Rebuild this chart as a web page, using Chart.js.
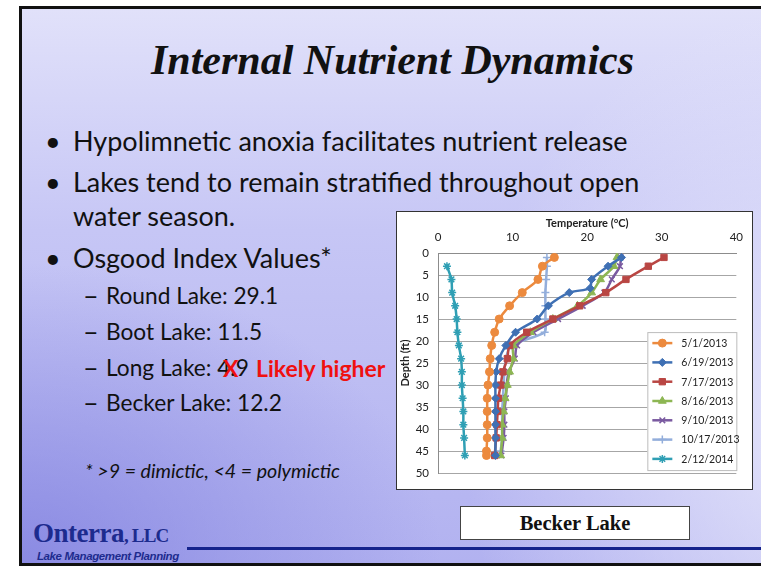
<!DOCTYPE html>
<html lang="en">
<head>
<meta charset="UTF-8">
<title>Internal Nutrient Dynamics</title>
<script src="https://cdn.jsdelivr.net/npm/chart.js"></script>
<style>
  html, body { margin: 0; padding: 0; }
  body { width: 761px; height: 566px; position: relative; overflow: hidden; background: #fff; }
  .slide {
    position: absolute; left: 19px; top: 6px; width: 800px; height: 554px;
    border: 3px solid #111; border-right: none;
    background:
      radial-gradient(ellipse 420px 300px at 0% 100%, rgba(125,125,222,0.75), rgba(125,125,222,0) 100%),
      radial-gradient(ellipse 360px 420px at 100% 75%, rgba(236,236,252,0.85), rgba(236,236,252,0) 100%),
      linear-gradient(to bottom, #e1e1fa 0%, #c6c6f5 40%, #b2b2f0 100%);
  }
  .t { position: absolute; white-space: nowrap; color: #111; font-family: Lato, sans-serif; line-height: 1; }
  .title { font-family: "Liberation Serif", serif; font-weight: bold; font-style: italic; font-size: 42px; left: 12px; width: 761px; text-align: center; }
  .b1 { font-size: 27px; }
  .b2 { font-size: 22.7px; }
  .dash { font-size: 27px; }
  .dot { font-size: 27px; }
  .red { color: #f01010; font-weight: bold; }
  .chartbox { position: absolute; left: 396px; top: 211px; width: 355px; height: 277px; background: #fff; border: 1.5px solid #333; }
  .caption { position: absolute; left: 460px; top: 506px; width: 228px; height: 32px; background: #fff; border: 1px solid #444;
    font-family: "Liberation Serif", serif; font-weight: bold; font-size: 20.5px; text-align: center; line-height: 33px; color: #111; }
  .rule { position: absolute; left: 187px; top: 547px; width: 580px; height: 3px; background: #15238c; }
  .logo { position: absolute; font-family: "Liberation Serif", serif; font-weight: bold; color: #1d2b8e; line-height: 1; white-space: nowrap; }
  .tag { position: absolute; font-family: "Liberation Sans", sans-serif; font-weight: bold; font-style: italic; font-size: 11.5px; color: #1d2b8e; line-height: 1; white-space: nowrap; letter-spacing: -0.4px; }
</style>
</head>
<body>
<div class="slide"></div>

<div class="t title" style="top:39px;">Internal Nutrient Dynamics</div>

<div class="t dot" style="left:45px; top:127px;">•</div>
<div class="t b1" style="left:73px; top:127px;">Hypolimnetic anoxia facilitates nutrient release</div>
<div class="t dot" style="left:45px; top:168px;">•</div>
<div class="t b1" style="left:73px; top:168px;">Lakes tend to remain stratified throughout open</div>
<div class="t b1" style="left:73px; top:202px;">water season.</div>
<div class="t dot" style="left:45px; top:244px;">•</div>
<div class="t b1" style="left:73px; top:244px;">Osgood Index Values*</div>

<div class="t dash" style="left:83px; top:281px;">–</div>
<div class="t b2" style="left:106px; top:285px;">Round Lake: 29.1</div>
<div class="t dash" style="left:83px; top:317px;">–</div>
<div class="t b2" style="left:106px; top:321px;">Boot Lake: 11.5</div>
<div class="t dash" style="left:83px; top:353px;">–</div>
<div class="t b2" style="left:106px; top:357px;">Long Lake: 4.9</div>
<div class="t red" style="left:223px; top:357px; font-size:23px;">X</div>
<div class="t red" style="left:256px; top:357px; font-size:23px;">Likely higher</div>
<div class="t dash" style="left:83px; top:388px;">–</div>
<div class="t b2" style="left:106px; top:392px;">Becker Lake: 12.2</div>

<div class="t" style="left:85px; top:461px; font-size:19.6px; font-style:italic;">* &gt;9 = dimictic, &lt;4 = polymictic</div>

<div class="logo" style="left:33px; top:520px; font-size:27px; letter-spacing:-0.5px;">Onterra<span style="font-size:19px; letter-spacing:-0.8px;">, LLC</span></div>
<div class="tag" style="left:37px; top:551px;">Lake Management Planning</div>
<div class="rule"></div>

<div class="chartbox"><canvas id="chart" width="355" height="277"></canvas></div>
<div class="caption">Becker Lake</div>

<script>
// depth (ft) of each reading, per sampling date
const depthMay = [1, 3, 6, 9, 12, 15, 18, 21, 24, 27, 30, 33, 36, 39, 42, 45, 46];
const depthJun = [1, 3, 6, 8, 9, 12, 15, 18, 21, 24, 27, 30, 33, 36, 39, 42, 46];
const depthStd = [1, 3, 6, 9, 12, 15, 18, 21, 24, 27, 30, 33, 36, 39, 42, 46];
const depthOct = [1, 3, 6, 9, 12, 15, 18, 21, 24, 27, 30, 33, 36, 39, 42, 45];
const depthFeb = [3, 6, 9, 12, 15, 18, 21, 24, 27, 30, 33, 36, 39, 42, 46];

// temperature (°C)
const tempMay = [15.6, 14.0, 13.4, 11.3, 9.6, 8.2, 7.6, 7.2, 7.0, 6.9, 6.7, 6.6, 6.6, 6.6, 6.6, 6.5, 6.5];
const tempJun = [24.6, 22.8, 20.6, 20.4, 17.6, 14.8, 13.3, 10.4, 9.1, 8.2, 7.8, 7.7, 7.7, 7.7, 7.7, 7.7, 7.7];
const tempJul = [30.3, 28.2, 25.2, 22.5, 19.0, 15.4, 11.9, 9.6, 9.3, 8.7, 8.4, 8.1, 8.0, 7.9, 7.8, 7.6];
const tempAug = [24.0, 23.6, 21.8, 20.6, 18.7, 15.4, 12.4, 10.1, 10.1, 9.6, 9.3, 9.0, 8.8, 8.6, 8.6, 8.4];
const tempSep = [24.5, 24.4, 23.3, 22.3, 19.4, 16.1, 12.8, 10.6, 10.3, 9.5, 9.2, 9.1, 8.9, 8.9, 8.8, 8.5];
const tempOct = [14.6, 14.6, 14.5, 14.4, 14.4, 14.4, 14.3, 9.8, 9.1, 8.9, 8.8, 8.7, 8.6, 8.6, 8.6, 8.4];
const tempFeb = [1.2, 1.8, 1.9, 2.3, 2.5, 2.6, 2.8, 3.1, 3.2, 3.2, 3.3, 3.4, 3.4, 3.5, 3.6];

const dates = ['5/1/2013', '6/19/2013', '7/17/2013', '8/16/2013', '9/10/2013', '10/17/2013', '2/12/2014'];
const tempTicks = [0, 10, 20, 30, 40];
const depthTicks = [0, 5, 10, 15, 20, 25, 30, 35, 40, 45, 50];

function pts(depths, temps) {
  return temps.map((t, i) => ({ x: t, y: depths[i] }));
}

function series(label, depths, temps, color, style, radius) {
  return {
    label: label,
    data: pts(depths, temps),
    showLine: true,
    borderColor: color,
    backgroundColor: color,
    borderWidth: 2.5,
    tension: 0.25,
    pointStyle: style,
    pointRadius: radius,
    pointBorderWidth: style === 'crossRot' || style === 'cross' || style === 'star' ? 1.5 : 1,
    pointBorderColor: color,
    pointBackgroundColor: color
  };
}

const datasets = [
  series(dates[0], depthMay, tempMay, '#ec8a3e', 'circle', 4),
  series(dates[1], depthJun, tempJun, '#3f70b4', 'rectRot', 4),
  series(dates[2], depthStd, tempJul, '#b94643', 'rect', 4.5),
  series(dates[3], depthStd, tempAug, '#8db653', 'triangle', 4.5),
  series(dates[4], depthStd, tempSep, '#7a5aa0', 'crossRot', 4),
  series(dates[5], depthOct, tempOct, '#93aedb', 'cross', 4),
  series(dates[6], depthFeb, tempFeb, '#2f9fb4', 'star', 4)
];

// legend box drawn inside the lower-right of the plot, like the Excel original
const boxLegend = {
  id: 'boxLegend',
  afterDatasetsDraw(chart) {
    const ctx = chart.ctx;
    const a = chart.chartArea;
    const w = 90, h = 139;
    const x0 = a.right - w + 1, y0 = a.bottom - h - 2;
    ctx.save();
    ctx.fillStyle = '#fff';
    ctx.strokeStyle = '#bcbcbc';
    ctx.lineWidth = 1;
    ctx.fillRect(x0, y0, w, h);
    ctx.strokeRect(x0 + 0.5, y0 + 0.5, w - 1, h - 1);
    ctx.font = '10.5px Lato, sans-serif';
    ctx.textBaseline = 'middle';
    chart.data.datasets.forEach((ds, i) => {
      const y = y0 + 11 + i * 19.3;
      const lx = x0 + 5;
      ctx.strokeStyle = ds.borderColor;
      ctx.lineWidth = 2.5;
      ctx.beginPath();
      ctx.moveTo(lx, y);
      ctx.lineTo(lx + 20, y);
      ctx.stroke();
      ctx.fillStyle = ds.pointBackgroundColor;
      ctx.strokeStyle = ds.pointBorderColor;
      ctx.lineWidth = ds.pointBorderWidth;
      Chart.helpers.drawPoint(ctx, { pointStyle: ds.pointStyle, radius: ds.pointRadius, rotation: 0, borderWidth: ds.pointBorderWidth }, lx + 10, y);
      ctx.fillStyle = '#222';
      ctx.fillText(ds.label, lx + 29, y + 0.5);
    });
    ctx.restore();
  }
};

new Chart(document.getElementById('chart'), {
  type: 'scatter',
  data: { datasets: datasets },
  plugins: [boxLegend],
  options: {
    responsive: false,
    animation: false,
    layout: { padding: { left: 0, right: 10, top: 0, bottom: 5 } },
    plugins: { legend: { display: false }, tooltip: { enabled: false } },
    scales: {
      x: {
        type: 'linear',
        position: 'top',
        min: tempTicks[0],
        max: tempTicks[tempTicks.length - 1],
        afterBuildTicks: s => { s.ticks = tempTicks.map(v => ({ value: v })); },
        afterFit: s => { s.height = 41; },
        grid: { display: false, drawTicks: false },
        border: { display: true, color: '#8c8c8c' },
        ticks: { color: '#222', font: { family: 'Lato', size: 11.5 }, padding: 9 },
        title: { display: true, text: 'Temperature (°C)', color: '#222', font: { family: 'Lato', size: 11, weight: 'bold' }, padding: { top: 5, bottom: 0 } }
      },
      y: {
        type: 'linear',
        reverse: true,
        min: depthTicks[0],
        max: depthTicks[depthTicks.length - 1],
        afterBuildTicks: s => { s.ticks = depthTicks.map(v => ({ value: v })); },
        afterFit: s => { s.width = 41; },
        grid: { color: '#a6a6a6', lineWidth: 1, drawTicks: false },
        border: { display: true, color: '#8c8c8c' },
        ticks: { color: '#222', font: { family: 'Lato', size: 11.5 }, padding: 9 },
        title: { display: true, text: 'Depth (ft)', color: '#222', font: { family: 'Lato', size: 11, weight: 'bold' }, padding: { top: 2, bottom: 0 } }
      }
    }
  }
});
</script>
</body>
</html>
